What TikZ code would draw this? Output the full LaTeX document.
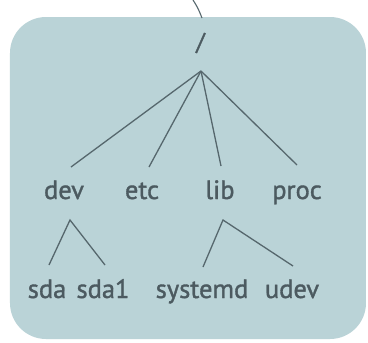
\documentclass[tikz,border=0pt]{standalone}
\usepackage{fontspec}
\setmainfont{PT Sans}[FakeBold=1.3]
\definecolor{boxfill}{HTML}{BAD3D7}
\definecolor{txt}{HTML}{4C5A60}
\definecolor{ln}{HTML}{56676D}
\begin{document}
\begin{tikzpicture}[x=1pt,y=-1pt,
  lbl/.style={text=txt,font=\fontsize{26.5}{28}\selectfont,inner sep=0pt,anchor=base},
  edge/.style={draw=ln,line width=1.3pt}]
\useasboundingbox (0,0) rectangle (368,343);
\fill[white] (0,0) rectangle (368,343);
\fill[boxfill,rounded corners=36pt] (10,17) rectangle (366,339);
% top link
\coordinate (up) at (193,0);
\coordinate (boxtop) at (202,18);
\draw[edge,line width=1.1pt] (up) .. controls (198,8) .. (boxtop);
% root slash
\node[text=txt,font=\fontsize{24}{26}\selectfont,inner sep=0pt] (slash) at (200.5,43) {/};
\coordinate (root) at (201,71);
% first level
\node[lbl] (dev) at (64,199) {dev};
\node[lbl] (etc) at (142,199) {etc};
\node[lbl] (lib) at (220,199) {lib};
\node[lbl] (proc) at (297,199) {proc};
\coordinate (devin) at (71,167);
\coordinate (etcin) at (149,167);
\coordinate (libin) at (221,166);
\coordinate (procin) at (297,165);
\draw[edge] (root) -- (devin);
\draw[edge] (root) -- (etcin);
\draw[edge] (root) -- (libin);
\draw[edge] (root) -- (procin);
% second level
\coordinate (devout) at (70,220);
\coordinate (libout) at (223,220);
\node[lbl] (sda) at (47,298) {sda};
\node[lbl] (sdaone) at (103,298) {sda1};
\node[lbl] (systemd) at (202,298) {systemd};
\node[lbl] (udev) at (292,298) {udev};
\coordinate (sdain) at (49,265);
\coordinate (sdaonein) at (105,265);
\coordinate (systemdin) at (203,267);
\coordinate (udevin) at (293,266);
\draw[edge] (sdain) -- (devout) -- (sdaonein);
\draw[edge] (systemdin) -- (libout) -- (udevin);
\end{tikzpicture}
\end{document}
